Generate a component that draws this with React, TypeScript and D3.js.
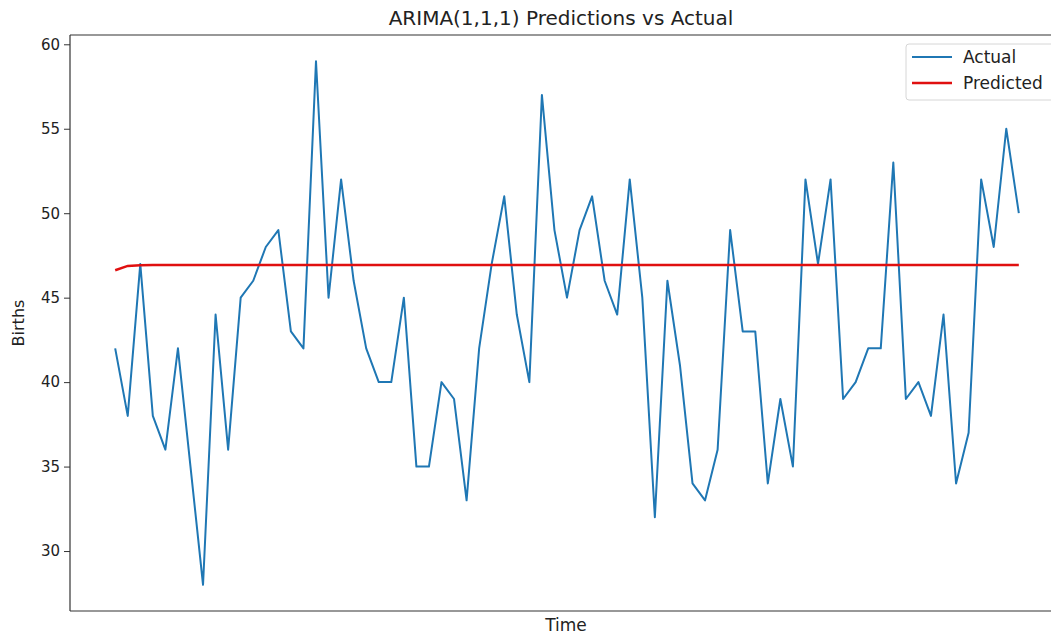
import React, { useEffect, useRef } from 'react';
import * as d3 from 'd3';

// test window values (73 days)
const actual = [
	42, 38, 47, 38, 36, 42, 35, 28, 44, 36, 45, 46, 48, 49, 43, 42, 59, 45, 52,
	46, 42, 40, 40, 45, 35, 35, 40, 39, 33, 42, 47, 51, 44, 40, 57, 49, 45, 49,
	51, 46, 44, 52, 45, 32, 46, 41, 34, 33, 36, 49, 43, 43, 34, 39, 35, 52, 47,
	52, 39, 40, 42, 42, 53, 39, 40, 38, 44, 34, 37, 52, 48, 55, 50,
];

const predicted = [
	46.62, 46.88, 46.92, 46.93, 46.93, 46.93, 46.93, 46.93, 46.93, 46.93, 46.93,
	46.93, 46.93, 46.93, 46.93, 46.93, 46.93, 46.93, 46.93, 46.93, 46.93, 46.93,
	46.93, 46.93, 46.93, 46.93, 46.93, 46.93, 46.93, 46.93, 46.93, 46.93, 46.93,
	46.93, 46.93, 46.93, 46.93, 46.93, 46.93, 46.93, 46.93, 46.93, 46.93, 46.93,
	46.93, 46.93, 46.93, 46.93, 46.93, 46.93, 46.93, 46.93, 46.93, 46.93, 46.93,
	46.93, 46.93, 46.93, 46.93, 46.93, 46.93, 46.93, 46.93, 46.93, 46.93, 46.93,
	46.93, 46.93, 46.93, 46.93, 46.93, 46.93, 46.93,
];

const yTicks = [30, 35, 40, 45, 50, 55, 60];

const seriesNames = ['Actual', 'Predicted'];
const seriesColors = ['#1f77b4', '#e01010'];

export default function App() {
	const chartRef = useRef(null);

	useEffect(() => {
		document.body.style.margin = '0';
		const el = chartRef.current;
		if (!el) return;
		d3.select(el).selectAll('*').remove();

		const W = 1051;
		const H = 634;
		const margin = { top: 35, right: -13, bottom: 23, left: 70 };
		const font = 'DejaVu Sans, sans-serif';

		const svg = d3
			.select(el)
			.append('svg')
			.attr('width', W)
			.attr('height', H)
			.style('display', 'block')
			.style('background', '#fff');

		const n = actual.length;
		const xPad = (n - 1) * 0.05;
		const x = d3
			.scaleLinear()
			.domain([-xPad, n - 1 + xPad])
			.range([margin.left, W - margin.right]);

		const lo = d3.min(actual);
		const hi = d3.max(actual);
		const yPad = (hi - lo) * 0.05;
		const y = d3
			.scaleLinear()
			.domain([lo - yPad, hi + yPad])
			.range([H - margin.bottom, margin.top]);

		const line = d3
			.line()
			.x((d, i) => x(i))
			.y((d) => y(d));

		svg.append('path')
			.datum(actual)
			.attr('fill', 'none')
			.attr('stroke', seriesColors[0])
			.attr('stroke-width', 2)
			.attr('stroke-linejoin', 'round')
			.attr('d', line);

		svg.append('path')
			.datum(predicted)
			.attr('fill', 'none')
			.attr('stroke', seriesColors[1])
			.attr('stroke-width', 2.5)
			.attr('d', line);

		// Spines (right one falls outside the picture)
		const spine = svg.append('g').attr('stroke', '#333').attr('stroke-width', 1.2);
		spine.append('line')
			.attr('x1', margin.left)
			.attr('x2', margin.left)
			.attr('y1', margin.top)
			.attr('y2', H - margin.bottom);
		spine.append('line')
			.attr('x1', margin.left)
			.attr('x2', W)
			.attr('y1', margin.top)
			.attr('y2', margin.top);
		spine.append('line')
			.attr('x1', margin.left)
			.attr('x2', W)
			.attr('y1', H - margin.bottom)
			.attr('y2', H - margin.bottom);

		// Y axis
		const yAxis = svg
			.append('g')
			.attr('transform', `translate(${margin.left},0)`)
			.call(d3.axisLeft(y).tickValues(yTicks).tickSize(6).tickPadding(4));
		yAxis.select('.domain').remove();
		yAxis.selectAll('.tick line').attr('stroke', '#333');
		yAxis.selectAll('text')
			.attr('fill', '#222')
			.style('font-family', font)
			.style('font-size', '15px');

		// Labels
		svg.append('text')
			.attr('x', 561)
			.attr('y', 25)
			.attr('text-anchor', 'middle')
			.attr('fill', '#222')
			.style('font-family', font)
			.style('font-size', '20px')
			.text('ARIMA(1,1,1) Predictions vs Actual');

		svg.append('text')
			.attr('x', 566)
			.attr('y', 631)
			.attr('text-anchor', 'middle')
			.attr('fill', '#222')
			.style('font-family', font)
			.style('font-size', '17px')
			.text('Time');

		svg.append('text')
			.attr('transform', `translate(24,${(margin.top + H - margin.bottom) / 2}) rotate(-90)`)
			.attr('text-anchor', 'middle')
			.attr('fill', '#222')
			.style('font-family', font)
			.style('font-size', '16px')
			.text('Births');

		// Legend
		const lg = svg.append('g').attr('transform', 'translate(906,44)');
		lg.append('rect')
			.attr('width', 170)
			.attr('height', 56)
			.attr('rx', 3)
			.attr('fill', '#fff')
			.attr('fill-opacity', 0.8)
			.attr('stroke', '#d6d6d6');
		seriesNames.forEach((name, i) => {
			const cy = 13 + i * 26;
			lg.append('line')
				.attr('x1', 6)
				.attr('x2', 46)
				.attr('y1', cy)
				.attr('y2', cy)
				.attr('stroke', seriesColors[i])
				.attr('stroke-width', i === 0 ? 2 : 2.5);
			lg.append('text')
				.attr('x', 57)
				.attr('y', cy + 6)
				.attr('fill', '#222')
				.style('font-family', font)
				.style('font-size', '17px')
				.text(name);
		});
	}, []);

	return <div ref={chartRef}></div>;
}
